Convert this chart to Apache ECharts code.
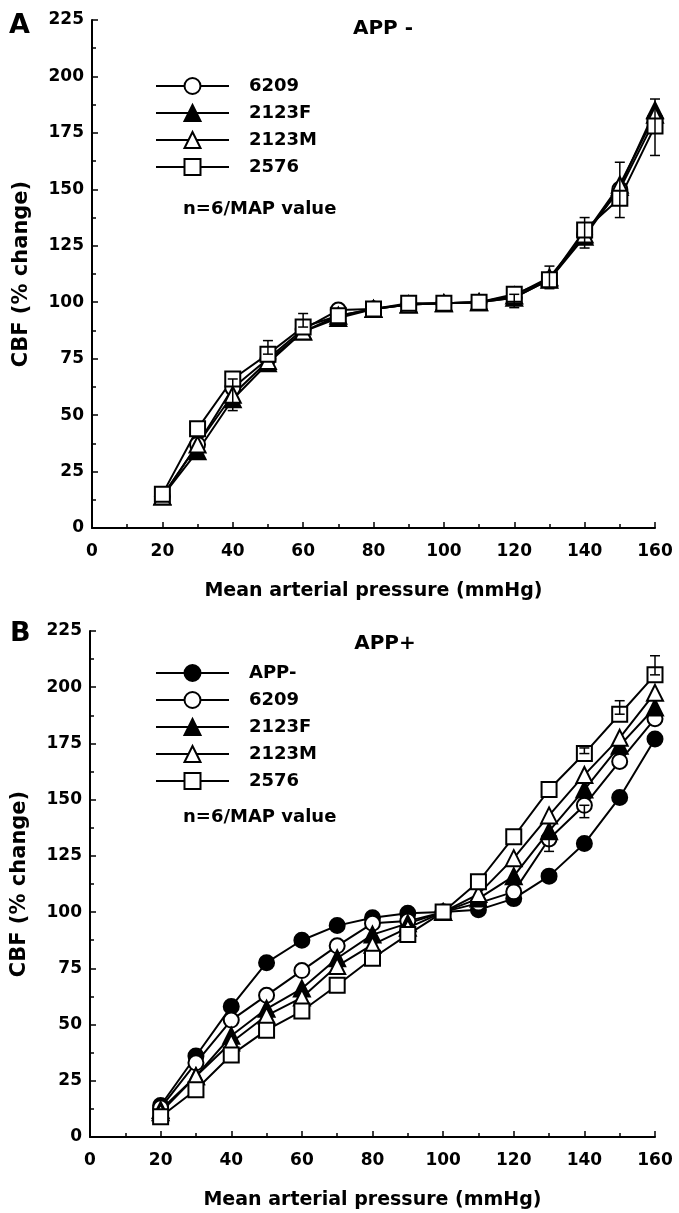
<!DOCTYPE html>
<html>
<head>
<meta charset="utf-8">
<script src="https://cdn.jsdelivr.net/npm/echarts@6/dist/echarts.min.js"></script>
<style>
html,body{margin:0;padding:0;background:#fff;}
#chart{width:679px;height:1213px;}
</style>
</head>
<body>
<div id="chart"></div>
<script>
// ---- data ----
const mapValues = [20, 30, 40, 50, 60, 70, 80, 90, 100, 110, 120, 130, 140, 150, 160];
const xTicks = [0, 20, 40, 60, 80, 100, 120, 140, 160];
const yTicks = [0, 25, 50, 75, 100, 125, 150, 175, 200, 225];

// Panel A (APP -)
const a6209  = [14, 37, 62, 75, 88, 96.5, 97, 99, 99.5, 100, 102, 110, 130, 150, 181];
const a2123F = [14, 34, 57, 73, 87, 93, 97, 99, 99.5, 100, 102, 110, 129, 151, 185];
const a2123M = [14, 37, 59, 74, 87, 94, 97, 99, 99.5, 100, 103, 111, 130, 152, 183];
const a2576  = [15, 44, 66, 77, 89, 94, 97, 99.5, 99.5, 100, 103.5, 110, 132, 146, 178];
// error bars [MAP, low, high]
const aErr = [[40, 52, 66], [50, 77, 83], [60, 89, 95], [120, 97.6, 103.5], [130, 106, 116],
              [140, 124, 137.5], [150, 137.5, 162], [160, 165, 190]];

// Panel B (APP+)
const bAPPm  = [14, 36, 58, 77.5, 87.5, 94, 97.5, 99.5, 100, 101, 106, 116, 130.5, 151, 177];
const b6209  = [13, 33, 52, 63, 74, 85, 95, 96, 100, 104, 109, 132.5, 147.5, 167, 186];
const b2123F = [12, 27, 45, 57, 66, 79.5, 90, 95, 100, 106, 116, 136, 154.5, 174, 191];
const b2123M = [11, 27, 42, 54, 62, 76, 85.5, 93, 100, 108, 124, 143, 161, 177.5, 197.5];
const b2576  = [9, 21, 36.5, 47.5, 56, 67.5, 79.5, 90, 100, 113.5, 133.5, 154.5, 170.5, 188, 205.5];
const bErr = [[130, 127, 132.5], [140, 142, 147.5], [140, 170.5, 173], [150, 188, 194], [160, 205.5, 214]];

// ---- chart ----
const FONT = "'DejaVu Sans', 'Liberation Sans', Arial, sans-serif";
const chart = echarts.init(document.getElementById('chart'), null, {renderer: 'canvas'});

function pairs(vals) { return mapValues.map((x, i) => [x, vals[i]]); }

const styles = {
  'APP-':  {symbol: 'circle',   size: 15, fill: '#000'},
  '6209':  {symbol: 'circle',   size: 15, fill: '#fff'},
  '2123F': {symbol: 'triangle', size: 16, fill: '#000'},
  '2123M': {symbol: 'triangle', size: 16, fill: '#fff'},
  '2576':  {symbol: 'rect',     size: 15, fill: '#fff'}
};

function lineSeries(name, vals, idx) {
  const s = styles[name];
  return {
    type: 'line', name: name, xAxisIndex: idx, yAxisIndex: idx,
    data: pairs(vals), symbol: s.symbol, symbolSize: s.size, showAllSymbol: true,
    lineStyle: {color: '#000', width: 2},
    itemStyle: {color: s.fill, borderColor: '#000', borderWidth: 2},
    emphasis: {disabled: true}, animation: false, z: 3
  };
}

function errSeries(data, idx) {
  return {
    type: 'custom', xAxisIndex: idx, yAxisIndex: idx, data: data, z: 4, animation: false,
    renderItem: function (params, api) {
      const lo = api.coord([api.value(0), api.value(1)]);
      const hi = api.coord([api.value(0), api.value(2)]);
      const w = 5;
      const st = {stroke: '#000', lineWidth: 1.5};
      return {type: 'group', children: [
        {type: 'line', shape: {x1: lo[0], y1: lo[1], x2: hi[0], y2: hi[1]}, style: st},
        {type: 'line', shape: {x1: lo[0] - w, y1: lo[1], x2: lo[0] + w, y2: lo[1]}, style: st},
        {type: 'line', shape: {x1: hi[0] - w, y1: hi[1], x2: hi[0] + w, y2: hi[1]}, style: st}
      ]};
    }
  };
}

const axisText = {color: '#000', fontFamily: FONT, fontWeight: 'bold', fontSize: 17};

function xAxis(idx) {
  return {
    type: 'value', gridIndex: idx, min: 0, max: 160, interval: 20,
    axisLine: {lineStyle: {color: '#000', width: 2}},
    axisTick: {inside: true, length: 6, lineStyle: {color: '#000', width: 1.5}},
    minorTick: {show: true, splitNumber: 2, length: 4, lineStyle: {color: '#000', width: 1.5}},
    splitLine: {show: false},
    axisLabel: Object.assign({margin: 15, formatter: v => xTicks.includes(v) ? String(v) : ''}, axisText),
    name: 'Mean arterial pressure (mmHg)', nameLocation: 'middle', nameGap: 54,
    nameTextStyle: Object.assign({}, axisText, {fontSize: 19})
  };
}
function yAxis(idx) {
  return {
    type: 'value', gridIndex: idx, min: 0, max: 225, interval: 25,
    axisLine: {show: true, lineStyle: {color: '#000', width: 2}},
    axisTick: {show: true, inside: true, length: 6, lineStyle: {color: '#000', width: 1.5}},
    minorTick: {show: true, splitNumber: 2, length: 4, lineStyle: {color: '#000', width: 1.5}},
    splitLine: {show: false},
    axisLabel: Object.assign({margin: 8, formatter: v => yTicks.includes(v) ? String(v) : ''}, axisText),
    name: 'CBF (% change)', nameLocation: 'middle', nameGap: 60, nameRotate: 90,
    nameTextStyle: Object.assign({}, axisText, {fontSize: 21})
  };
}

function legend(names, top) {
  return {
    data: names, orient: 'vertical', left: 150, top: top,
    itemWidth: 73, itemHeight: 20, itemGap: 7, selectedMode: false,
    textStyle: {color: '#000', fontFamily: FONT, fontWeight: 'bold', fontSize: 18,
                lineHeight: 20, padding: [0, 0, 0, 15]}
  };
}

const option = {
  backgroundColor: '#fff',
  animation: false,
  grid: [
    {left: 92, top: 20, width: 563, height: 508},
    {left: 90, top: 631, width: 565, height: 506}
  ],
  xAxis: [xAxis(0), xAxis(1)],
  yAxis: [yAxis(0), yAxis(1)],
  legend: [
    legend(['6209', '2123F', '2123M', '2576'], 71),
    legend(['APP-', '6209', '2123F', '2123M', '2576'], 658)
  ],
  title: [
    {text: 'APP -', left: 378, top: 14, textAlign: 'center',
     textStyle: {fontFamily: FONT, fontWeight: 'bold', fontSize: 20, color: '#000'}},
    {text: 'APP+', left: 380, top: 629, textAlign: 'center',
     textStyle: {fontFamily: FONT, fontWeight: 'bold', fontSize: 20, color: '#000'}}
  ],
  graphic: [
    {type: 'text', left: 9, top: 12, style: {text: 'A', font: 'bold 27px ' + FONT, fill: '#000'}},
    {type: 'text', left: 10, top: 620, style: {text: 'B', font: 'bold 27px ' + FONT, fill: '#000'}},
    {type: 'text', left: 183, top: 200, style: {text: 'n=6/MAP value', font: 'bold 18px ' + FONT, fill: '#000'}},
    {type: 'text', left: 183, top: 808, style: {text: 'n=6/MAP value', font: 'bold 18px ' + FONT, fill: '#000'}}
  ],
  series: [
    errSeries(aErr, 0),
    lineSeries('6209', a6209, 0),
    lineSeries('2123F', a2123F, 0),
    lineSeries('2123M', a2123M, 0),
    lineSeries('2576', a2576, 0),
    errSeries(bErr, 1),
    lineSeries('APP-', bAPPm, 1),
    lineSeries('6209', b6209, 1),
    lineSeries('2123F', b2123F, 1),
    lineSeries('2123M', b2123M, 1),
    lineSeries('2576', b2576, 1)
  ]
};
chart.setOption(option);
</script>
</body>
</html>
